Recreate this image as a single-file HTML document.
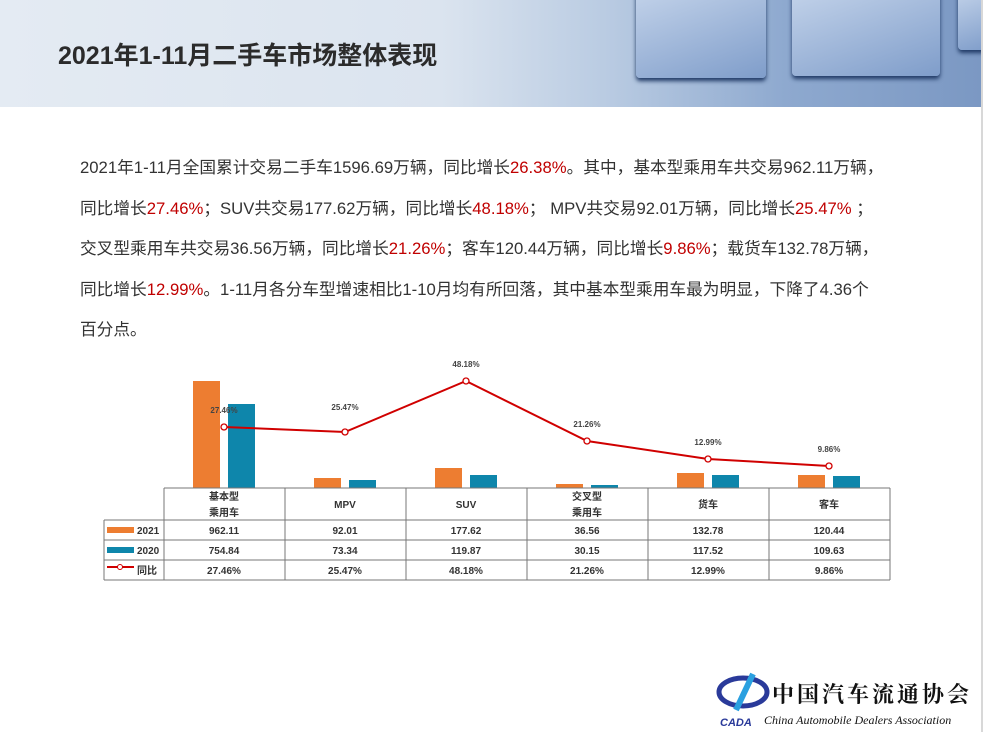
<!DOCTYPE html>
<html><head><meta charset="utf-8"><style>
body{margin:0;width:983px;height:732px;overflow:hidden;background:#fff;font-family:"Liberation Sans","Noto Sans CJK SC",sans-serif;position:relative}
.hdr{position:absolute;left:0;top:0;width:981px;height:107px;background:linear-gradient(90deg,#e4ebf3 0%,#dbe4ef 45%,#b9cbe2 62%,#8ea9cf 80%,#7b98c3 100%)}
.box{position:absolute;background:linear-gradient(160deg,#c3d3ea,#7f9dca);border-radius:4px;box-shadow:0 3px 4px #203a66}
.title{position:absolute;left:58px;top:36px;font-size:25px;font-weight:bold;color:#2b2b2b}
.rl{position:absolute;left:981px;top:0;width:2px;height:732px;background:#d8d8d8}
.p{position:absolute;left:80px;top:148px;font-size:16.7px;line-height:40.5px;color:#333;width:880px;white-space:nowrap}
.r{color:#c00000}
</style></head><body>
<div class="hdr"></div>
<div class="box" style="left:636px;top:-10px;width:130px;height:88px"></div>
<div class="box" style="left:792px;top:-10px;width:148px;height:86px"></div>
<div class="box" style="left:958px;top:-10px;width:30px;height:60px"></div>
<div class="title">2021年1-11月二手车市场整体表现</div>
<div class="rl"></div>
<div class="p">2021年1-11月全国累计交易二手车1596.69万辆，同比增长<span class="r">26.38%</span>。其中，基本型乘用车共交易962.11万辆，<br>同比增长<span class="r">27.46%</span>；SUV共交易177.62万辆，同比增长<span class="r">48.18%</span>； MPV共交易92.01万辆，同比增长<span class="r">25.47%</span> ；<br>交叉型乘用车共交易36.56万辆，同比增长<span class="r">21.26%</span>；客车120.44万辆，同比增长<span class="r">9.86%</span>；载货车132.78万辆，<br>同比增长<span class="r">12.99%</span>。1-11月各分车型增速相比1-10月均有所回落，其中基本型乘用车最为明显，下降了4.36个<br>百分点。</div>
<svg width="983" height="732" style="position:absolute;left:0;top:0" font-family="Liberation Sans,Noto Sans CJK SC,sans-serif">
<g fill="#ed7d31">
<rect x="193" y="381" width="27" height="107"/><rect x="314" y="478" width="27" height="10"/><rect x="435" y="468" width="27" height="20"/><rect x="556" y="484" width="27" height="4"/><rect x="677" y="473" width="27" height="15"/><rect x="798" y="475" width="27" height="13"/>
</g>
<g fill="#0e86ab">
<rect x="228" y="404" width="27" height="84"/><rect x="349" y="480" width="27" height="8"/><rect x="470" y="475" width="27" height="13"/><rect x="591" y="485" width="27" height="3"/><rect x="712" y="475" width="27" height="13"/><rect x="833" y="476" width="27" height="12"/>
</g>
<polyline points="224,427 345,432 466,381 587,441 708,459 829,466" fill="none" stroke="#d00000" stroke-width="2"/>
<g fill="#fff" stroke="#d00000" stroke-width="1.3">
<circle cx="224" cy="427" r="3"/><circle cx="345" cy="432" r="3"/><circle cx="466" cy="381" r="3"/><circle cx="587" cy="441" r="3"/><circle cx="708" cy="459" r="3"/><circle cx="829" cy="466" r="3"/>
</g>
<g font-size="8" font-weight="bold" fill="#444" text-anchor="middle">
<text x="224" y="413">27.46%</text><text x="345" y="410">25.47%</text><text x="466" y="367">48.18%</text><text x="587" y="427">21.26%</text><text x="708" y="445">12.99%</text><text x="829" y="452">9.86%</text>
</g>
<g stroke="#777" stroke-width="1" fill="none">
<line x1="164" y1="488" x2="890" y2="488"/>
<line x1="104" y1="520" x2="890" y2="520"/><line x1="104" y1="540" x2="890" y2="540"/><line x1="104" y1="560" x2="890" y2="560"/><line x1="104" y1="580" x2="890" y2="580"/>
<line x1="104" y1="520" x2="104" y2="580"/>
<line x1="164" y1="488" x2="164" y2="580"/><line x1="285" y1="488" x2="285" y2="580"/><line x1="406" y1="488" x2="406" y2="580"/><line x1="527" y1="488" x2="527" y2="580"/><line x1="648" y1="488" x2="648" y2="580"/><line x1="769" y1="488" x2="769" y2="580"/><line x1="890" y1="488" x2="890" y2="580"/>
</g>
<g font-size="10" font-weight="bold" fill="#333" text-anchor="middle">
<text x="224" y="500">基本型</text><text x="224" y="516">乘用车</text>
<text x="345" y="508">MPV</text><text x="466" y="508">SUV</text>
<text x="587" y="500">交叉型</text><text x="587" y="516">乘用车</text>
<text x="708" y="508">货车</text><text x="829" y="508">客车</text>
<text x="224" y="534">962.11</text><text x="345" y="534">92.01</text><text x="466" y="534">177.62</text><text x="587" y="534">36.56</text><text x="708" y="534">132.78</text><text x="829" y="534">120.44</text>
<text x="224" y="554">754.84</text><text x="345" y="554">73.34</text><text x="466" y="554">119.87</text><text x="587" y="554">30.15</text><text x="708" y="554">117.52</text><text x="829" y="554">109.63</text>
<text x="224" y="574">27.46%</text><text x="345" y="574">25.47%</text><text x="466" y="574">48.18%</text><text x="587" y="574">21.26%</text><text x="708" y="574">12.99%</text><text x="829" y="574">9.86%</text>
</g>
<rect x="107" y="527" width="27" height="6" fill="#ed7d31"/><rect x="107" y="547" width="27" height="6" fill="#0e86ab"/>
<line x1="107" y1="567" x2="134" y2="567" stroke="#d00000" stroke-width="2"/><circle cx="120" cy="567" r="2.5" fill="#fff" stroke="#d00000"/>
<g font-size="10" font-weight="bold" fill="#333"><text x="137" y="534">2021</text><text x="137" y="554">2020</text><text x="137" y="574">同比</text></g>
<g transform="translate(718,672)">
<ellipse cx="25" cy="20" rx="24" ry="14" fill="none" stroke="#2a3a9a" stroke-width="5"/>
<path d="M35 2 L18 38" stroke="#2aa0e0" stroke-width="6"/>
<text x="2" y="54" font-size="11" font-weight="bold" font-style="italic" fill="#2a3a9a">CADA</text>
</g>
<text x="772" y="702" font-size="22" font-weight="bold" fill="#111" font-family="Noto Serif CJK SC,serif" letter-spacing="3">中国汽车流通协会</text>
<text x="764" y="724" font-size="12" font-style="italic" fill="#111" font-family="Liberation Serif,serif">China Automobile Dealers Association</text>
</svg>
</body></html>
